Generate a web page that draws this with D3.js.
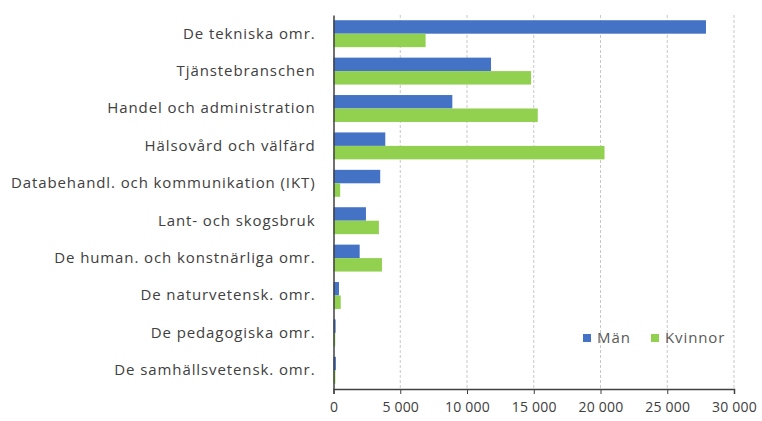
<!DOCTYPE html>
<html><head><meta charset="utf-8">
<script src="https://cdn.jsdelivr.net/npm/d3@7"></script>
<style>body{margin:0;background:#fff}</style>
</head><body><svg id="c" width="762" height="421"></svg>
<script>
const categories = ["De tekniska omr.","Tjänstebranschen","Handel och administration","Hälsovård och välfärd","Databehandl. och kommunikation (IKT)","Lant- och skogsbruk","De human. och konstnärliga omr.","De naturvetensk. omr.","De pedagogiska omr.","De samhällsvetensk. omr."];
const seriesNames = ["Män","Kvinnor"];
const man = [27900,11800,8900,3880,3500,2430,1960,410,160,180];
const kvinnor = [6900,14800,15300,20300,500,3400,3630,540,130,140];
const ticks = [0,5000,10000,15000,20000,25000,30000];
const colors = ["#4472C4","#92D050"];

const svg = d3.select("#c");
const x = d3.scaleLinear().domain([0,30000]).range([333.5,734]);
const y = d3.scaleBand().domain(categories).range([15,389]).paddingInner(0.28).paddingOuter(0.14);
const sub = d3.scaleBand().domain(seriesNames).range([0,y.bandwidth()]);
const fmt = v => d3.format(",")(v).replace(/,/g," ");
const font = "Open Sans, sans-serif";

// gridlines
svg.append("g").selectAll("line").data(ticks.slice(1)).join("line")
  .attr("x1",d=>x(d)).attr("x2",d=>x(d)).attr("y1",15).attr("y2",389)
  .attr("stroke","#c8c8c8").attr("stroke-width",1).attr("stroke-dasharray","3,2");

const data = [man,kvinnor];
seriesNames.forEach((s,si)=>{
  svg.append("g").selectAll("rect").data(categories).join("rect")
    .attr("x",x(0)).attr("y",c=>y(c)+sub(s))
    .attr("width",(c,i)=>x(data[si][i])-x(0)).attr("height",sub.bandwidth())
    .attr("fill",colors[si]);
});

// x axis
const xa = svg.append("g").attr("transform","translate(0,389)")
  .call(d3.axisBottom(x).tickValues(ticks).tickSize(5).tickFormat(fmt));
xa.select(".domain").attr("stroke","#404040").attr("stroke-width",1.5);
xa.selectAll(".tick line").attr("stroke","#404040");
xa.selectAll("text").attr("font-family",font).attr("font-size",14).attr("letter-spacing","0.2px")
  .attr("fill","#404040").attr("dy","1.05em");

// y axis
const ya = svg.append("g").attr("transform","translate(333.5,0)")
  .call(d3.axisLeft(y).tickSize(0).tickPadding(18));
ya.select(".domain").attr("stroke","#404040").attr("stroke-width",1.5);
ya.selectAll("text").attr("font-family",font).attr("font-size",15).attr("letter-spacing","0.9px").attr("fill","#404040");

// legend
const leg = svg.append("g");
const lx = [583,651];
seriesNames.forEach((s,i)=>{
  leg.append("rect").attr("x",lx[i]).attr("y",334).attr("width",8).attr("height",8).attr("fill",colors[i]);
  leg.append("text").attr("x",lx[i]+14).attr("y",343).text(s)
    .attr("font-family",font).attr("font-size",15).attr("letter-spacing","0.9px").attr("fill","#595959");
});
</script></body></html>
